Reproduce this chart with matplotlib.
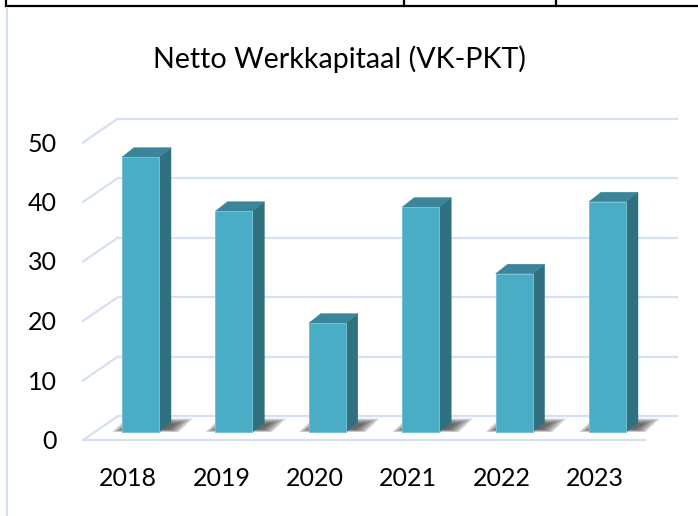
import matplotlib
matplotlib.use('Agg')
import matplotlib.pyplot as plt
from matplotlib.patches import Polygon
from matplotlib.lines import Line2D

title = "Netto Werkkapitaal (VK-PKT)"
years = ["2018", "2019", "2020", "2021", "2022", "2023"]
values = [46.2, 37.1, 18.3, 37.8, 26.6, 38.7]
yticks = [0, 10, 20, 30, 40, 50]

FONT = ['Lato', 'DejaVu Sans']
W, H = 698, 516
fig = plt.figure(figsize=(W / 100, H / 100), dpi=100)
ax = fig.add_axes([0, 0, 1, 1])

PX_X = 93.4   # pixels per category
PX_Y = 5.95   # pixels per value unit
X0 = 140.5    # pixel x of first category (bar front centre)
Y0 = 432      # pixel row of value 0 on the bar plane
ax.set_xlim(-X0 / PX_X, (W - X0) / PX_X)
ax.set_ylim((Y0 - H) / PX_Y, Y0 / PX_Y)
ax.axis('off')


def px_x(p):
    return (p - X0) / PX_X


def dxp(p):
    return p / PX_X


def dyp(p):
    return p / PX_Y


GRID = '#D5E1F3'
BACK = dyp(16)
FRONT = -dyp(8)
# gridlines (back wall + left diagonals)
for v in yticks:
    ax.plot([px_x(118), px_x(678)], [v + BACK, v + BACK], color=GRID, lw=1.6, zorder=1,
            solid_capstyle='butt')
    ax.plot([px_x(83), px_x(118)], [v + FRONT, v + BACK], color=GRID, lw=1.6, zorder=1)
ax.plot([px_x(83), px_x(646)], [FRONT, FRONT], color=GRID, lw=1.6, zorder=1,
        solid_capstyle='butt')

w = dxp(37)
ddx = dxp(12)
ddy = dyp(9.5)

FRONT_C = '#4BACC6'
SIDE_C = '#31707F'
TOP_C = '#3A8599'

# shadows
for i, v in enumerate(values):
    xl, xr = i - w / 2, i + w / 2
    for k in range(8):
        s = k * 1.5
        pts = [(xl - dxp(10) + dxp(s), dyp(s * 0.25)),
               (xr + dxp(20) - dxp(s), dyp(s * 0.25)),
               (xr + dxp(34) - dxp(s * 1.6), ddy + dyp(4) - dyp(s * 0.5)),
               (xl + dxp(4) + dxp(s), ddy + dyp(4) - dyp(s * 0.5))]
        ax.add_patch(Polygon(pts, closed=True, facecolor='#333333', edgecolor='none',
                             alpha=0.15, zorder=2))

bars = ax.bar(range(len(values)), values, width=w, color=FRONT_C,
              edgecolor='#72C2D7', linewidth=0.7, zorder=4)
for i, v in enumerate(values):
    xl, xr = i - w / 2, i + w / 2
    ax.add_patch(Polygon([(xr, 0), (xr + ddx, ddy), (xr + ddx, v + ddy), (xr, v)],
                         closed=True, facecolor=SIDE_C, edgecolor=SIDE_C, lw=0.3, zorder=3))
    ax.add_patch(Polygon([(xl, v), (xr, v), (xr + ddx, v + ddy), (xl + ddx, v + ddy)],
                         closed=True, facecolor=TOP_C, edgecolor=TOP_C, lw=0.3, zorder=3))

# y tick labels
for v in yticks:
    ax.text(px_x(57), v + FRONT - dyp(1.5), str(v), ha='right', va='center',
            fontsize=18, family=FONT, color='black')

# category labels
for i, y in enumerate(years):
    ax.text(i - dxp(12.5), -dyp(478 - Y0), y, ha='center', va='center',
            fontsize=18, family=FONT, color='black')

# title
ax.text(px_x(339.5), dyp(Y0 - 59), title, ha='center', va='center',
        fontsize=20.6, family=FONT, color='black')

# page decorations (table border and frame)
fig.add_artist(Line2D([6 / W, 1], [1 - 6 / H, 1 - 6 / H], color='black', lw=1.6))
for xp in [6, 404, 556]:
    fig.add_artist(Line2D([xp / W, xp / W], [1, 1 - 6 / H], color='black', lw=1.6))
fig.add_artist(Line2D([7.5 / W, 7.5 / W], [1 - 8 / H, 0], color='#D3E0F0', lw=1.5))

fig.savefig('out.png', dpi=100)
